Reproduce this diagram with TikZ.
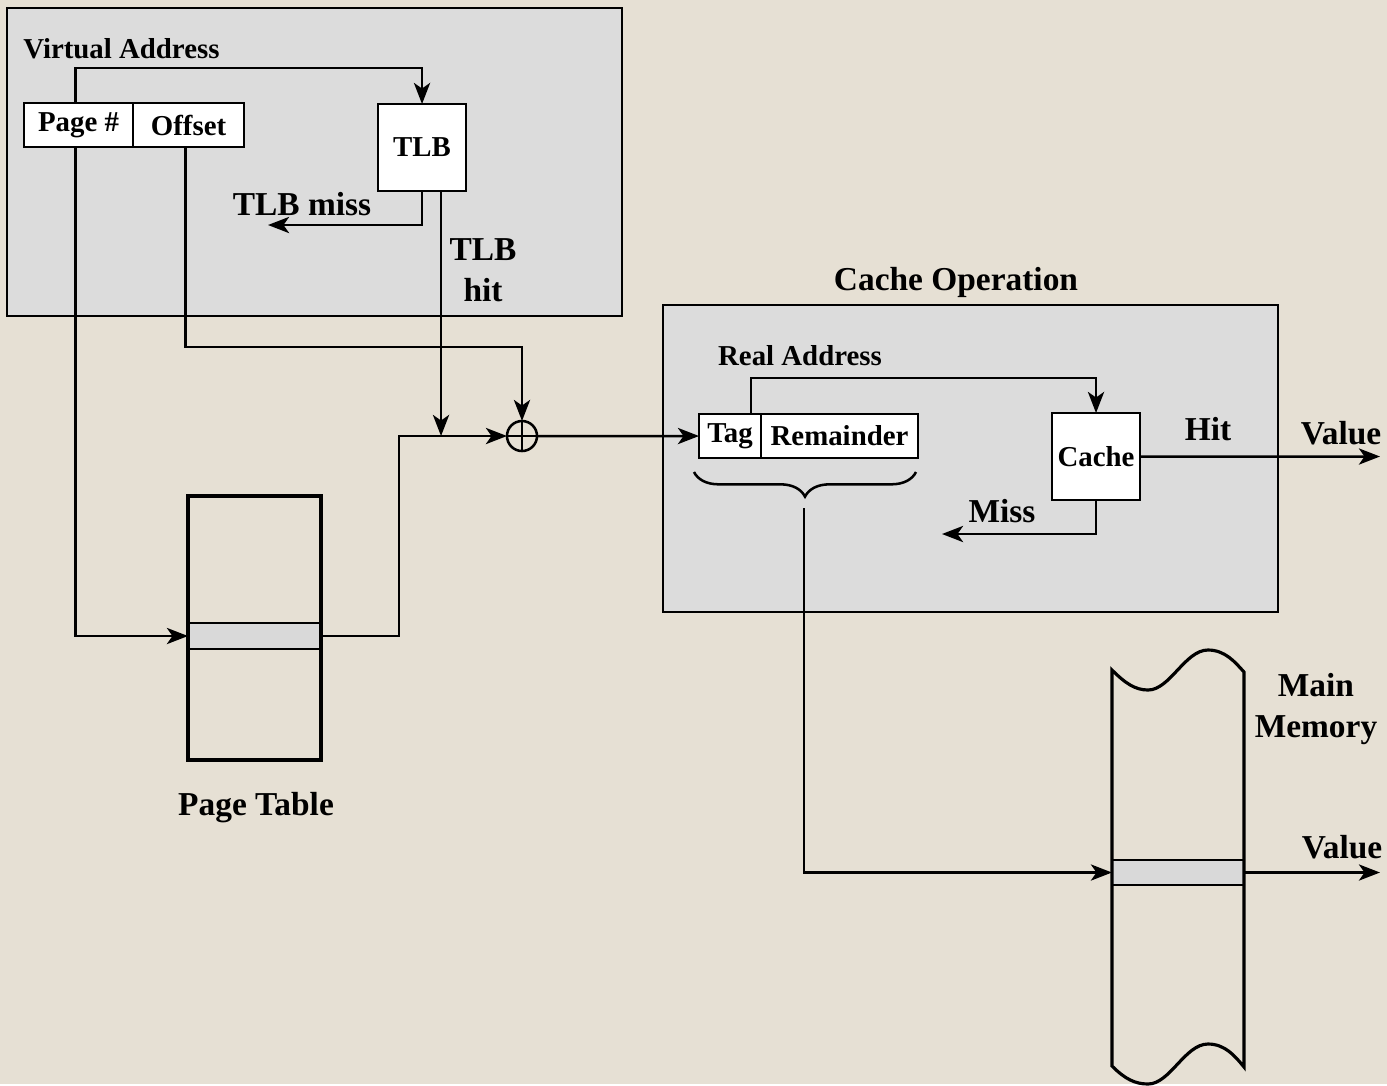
\documentclass[tikz,border=0pt]{standalone}
\usepackage{fontspec}
\setmainfont{Liberation Serif}
\usetikzlibrary{calc}
\usetikzlibrary{arrows.meta,decorations.pathreplacing}

\definecolor{paper}{RGB}{230,224,212}
\definecolor{panel}{RGB}{220,220,220}
\definecolor{slot}{RGB}{217,217,217}

\begin{document}
\begin{tikzpicture}
% one unit is one pixel, y runs down
[
    x=0.01cm, y=-0.01cm,
    line width=0.72pt,
    >={Stealth[length=6pt,width=4.6pt,inset=1.6pt]},
    big/.style={font=\fontsize{9.5}{11.7}\selectfont\bfseries,inner sep=0pt},
    small/.style={font=\fontsize{8.2}{10}\selectfont\bfseries,inner sep=0pt},
    cell/.style={small,draw,fill=white,outer sep=0pt,minimum height=0.44cm,anchor=north west},
    slotrow/.style={draw,fill=slot,inner sep=0pt,outer sep=0pt}
]

% background
\fill[paper] (0,0) rectangle (1387,1084);

% virtual address panel
\draw[fill=panel] (7,8) rectangle (622,316);
\node[small,anchor=base west] (valbl) at (22,58) {Virtual Address};
\node[cell,minimum width=1.09cm] (page) at (24,103) {Page \#};
\node[cell,minimum width=1.11cm] (offset) at (133,103) {Offset};
\node[cell,minimum width=0.88cm,minimum height=0.87cm] (tlb) at (378,104) {TLB};
\draw[->] ($(page.north)+(-3,0)$) -- ++(0,-35) -| (tlb.north);

% adder
\node[draw,circle,minimum size=0.3cm,inner sep=0pt,outer sep=0pt] (sum) at (522,436) {};
\draw (sum.north) -- (sum.south) (sum.west) -- (sum.east);

% TLB outputs
\coordinate (tlbmiss) at (268,225);
\draw[->] (tlb.south) |- (tlbmiss);
\node[big,anchor=base] (misslbl) at (302,215) {TLB miss};
\coordinate (hit) at ($(tlb.south)+(19,0)$);
\draw[->] (hit) -- (hit |- sum.west);
\node[big,align=center,anchor=north] (hitlbl) at (483,237) {TLB\\hit};
\draw[->] ($(offset.south)+(-3,0)$) |- ($(sum.north)+(0,-74)$) -- (sum.north);

% page table
\node[slotrow,minimum width=1.33cm,minimum height=0.26cm] (ptrow) at (254.5,636) {};
\node[draw,line width=1.15pt,minimum width=1.33cm,minimum height=2.64cm,inner sep=0pt] (ptab) at (254.5,628) {};
\node[big,anchor=base] (ptlbl) at (256,815) {Page Table};
\draw[->] ($(page.south)+(-3,0)$) |- (ptrow.west);
\draw[->] (ptrow.east) -- ++(78,0) |- (sum.west);

% cache operation panel
\draw[fill=panel] (663,305) rectangle (1278,612);
\node[big,anchor=base] (colbl) at (956,290) {Cache Operation};
\node[small,anchor=base] (ralbl) at (800,365) {Real Address};
\node[cell,minimum width=0.62cm] (tag) at (699,414) {Tag};
\node[cell,minimum width=1.57cm] (rem) at (761,414) {Remainder};
\node[cell,minimum width=0.88cm,minimum height=0.87cm] (cache) at (1052,413) {Cache};
\draw[->] (sum.east) -- (tag.west);
\draw[->] ($(tag.north east)+(-10,0)$) -- ++(0,-36) -| (cache.north);

% cache outputs
\coordinate (hitval) at (1380,456.5);
\draw[->] (cache.east) -- (hitval);
\node[big,anchor=base] (hitlbl2) at (1208,440) {Hit};
\node[big,anchor=base] (vallbl) at (1341,444) {Value};
\coordinate (missend) at (942,534);
\draw[->] (cache.south) |- (missend);
\node[big,anchor=base] (misslbl2) at (1002,522) {Miss};

% brace under the real address
\draw[decorate,decoration={brace,mirror,amplitude=7pt}] (694,472) -- (916,472);
\coordinate (brtip) at (804,508);

% main memory
\node[slotrow,minimum width=1.32cm,minimum height=0.25cm] (mmrow) at (1178,872.5) {};
\draw[line width=0.9pt] (1112,670) -- (1112,1066)
    .. controls (1125,1079) and (1135,1084) .. (1148,1084)
    .. controls (1170,1084) and (1185,1044) .. (1208,1044)
    .. controls (1225,1044) and (1235,1056) .. (1244,1067)
    -- (1244,672)
    .. controls (1235,662) and (1225,650) .. (1208,650)
    .. controls (1185,650) and (1170,690) .. (1148,690)
    .. controls (1135,690) and (1125,683) .. (1112,670) -- cycle;
\node[big,align=center,anchor=north] (mmlbl) at (1316,672) {Main\\Memory};
\draw[->] (brtip) |- (mmrow.west);
\coordinate (mmval) at (1380,872.5);
\draw[->] (mmrow.east) -- (mmval);
\node[big,anchor=base] (vallbl2) at (1342,858) {Value};

\end{tikzpicture}
\end{document}
